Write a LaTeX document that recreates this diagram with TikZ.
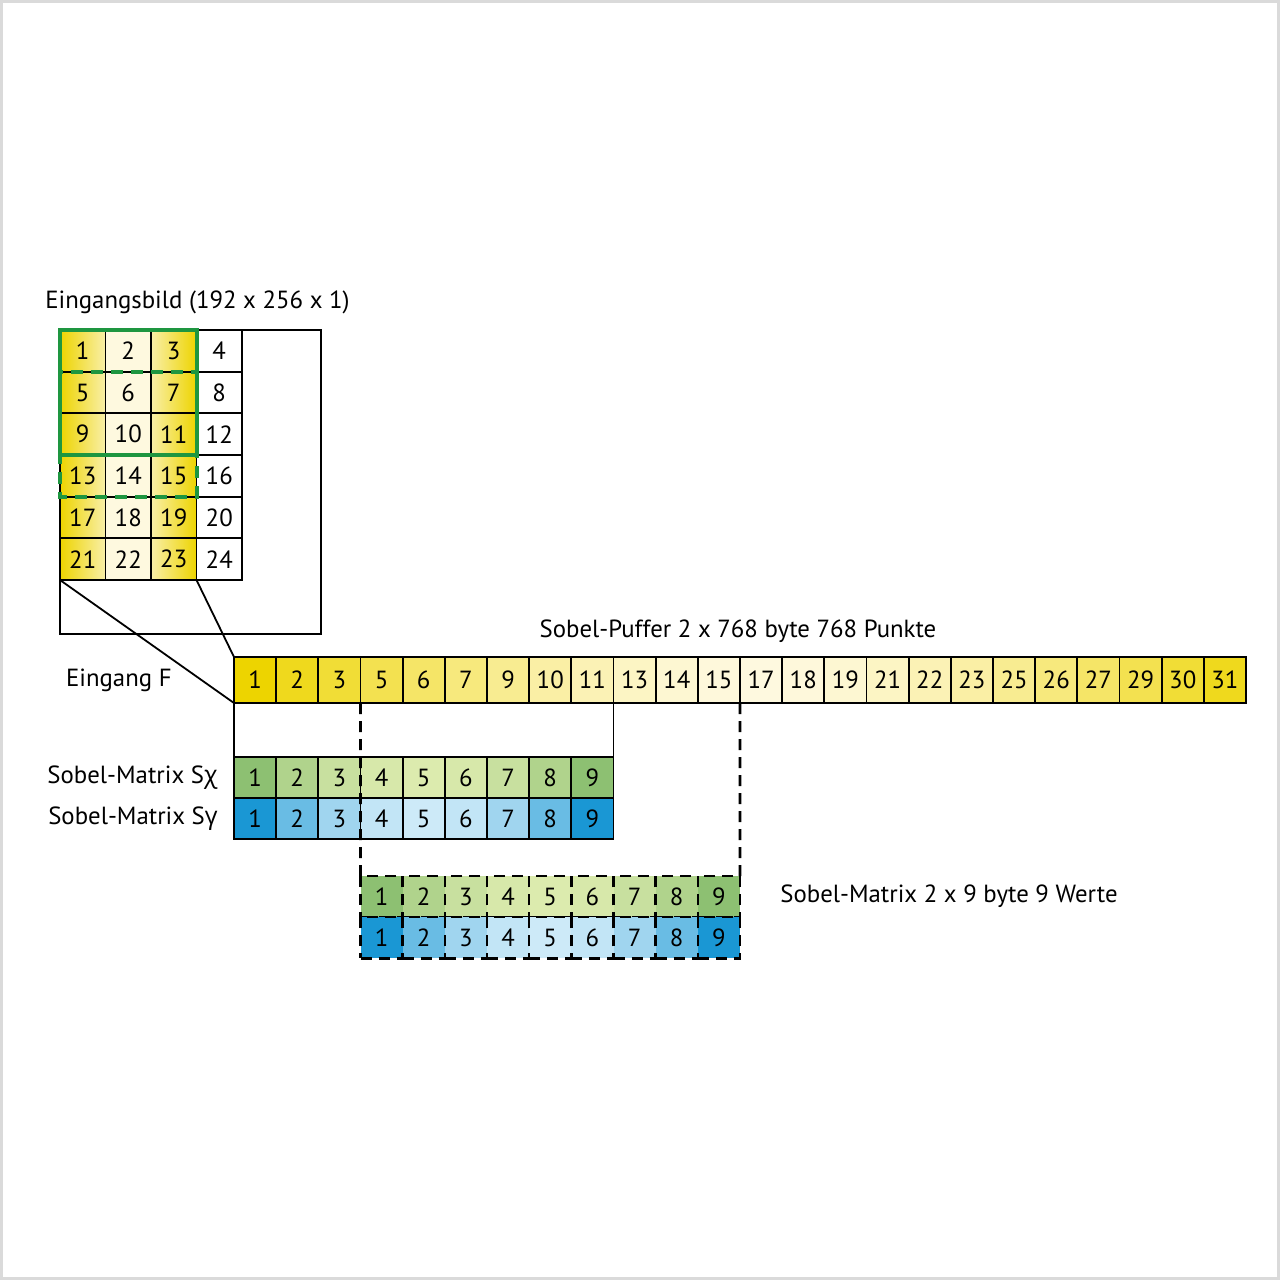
\documentclass[tikz,border=0pt]{standalone}
\usepackage{fontspec}
\setmainfont{PT Sans}
\newfontfamily\greekfont{Open Sans}
\usepackage{tikz}
\usetikzlibrary{positioning}
\definecolor{YelDeep}{HTML}{EDD400}
\definecolor{YelMid}{HTML}{F9EFA8}
\definecolor{YelPale}{HTML}{FEF9DF}
\definecolor{GrnDeep}{HTML}{8DC072}
\definecolor{GrnPale}{HTML}{DCEBAE}
\definecolor{BluDeep}{HTML}{1A97D4}
\definecolor{BluPale}{HTML}{CDEAF8}
\definecolor{WinGreen}{HTML}{1E9640}
\definecolor{FrameGray}{HTML}{DADADA}

\begin{document}
\begin{tikzpicture}[x=0.5pt, y=-0.5pt,
  cell/.style={draw, line width=0.9pt, inner sep=0pt, outer sep=0pt, anchor=north west, font=\fontsize{12.4}{14}\selectfont},
  incell/.style={cell, minimum width=22.75pt, minimum height=20.83pt},
  bufcell/.style={cell, minimum width=21.08pt, minimum height=23pt},
  matcell/.style={cell, minimum width=21.08pt, minimum height=20.6pt},
  dashcell/.style={matcell, line width=1.3pt, dash pattern=on 5.5pt off 3.5pt},
  incol1/.style={left color=YelDeep, right color=YelMid},
  incol2/.style={fill=YelPale},
  incol3/.style={left color=YelMid, right color=YelDeep},
  incol4/.style={fill=white},
  lbl/.style={font=\fontsize{12.4}{14}\selectfont, inner sep=0pt},
  win/.style={draw=WinGreen, line width=2pt},
  conn/.style={line width=0.9pt},
  ]
  \useasboundingbox (0,0) rectangle (1280,1280);
  \draw[FrameGray, line width=1.5pt] (1.5,1.5) rectangle (1278.5,1278.5);

  % Eingangsbild
  \node[lbl, anchor=west] (title) at (45,302) {Eingangsbild (192 x 256 x 1)};
  \node[draw, line width=0.9pt, anchor=north west, inner sep=0pt, outer sep=0pt,
    minimum width=130.5pt, minimum height=152pt] (img) at (60,330) {};
  \foreach \r in {1,...,6}
    \foreach \c in {1,...,4} {
      \pgfmathtruncatemacro\n{(\r-1)*4+\c}
      \node[incell, incol\c] (in-\r-\c) at ({60+(\c-1)*45.5},{330+(\r-1)*41.67}) {\n};
    }
  \draw[win, dash pattern=on 6pt off 4pt] (in-2-1.north west) rectangle (in-4-3.south east);
  \draw[win] (in-1-1.north west) rectangle (in-3-3.south east);

  % Sobel-Puffer
  \foreach \v [count=\i] in {1,2,3,5,6,7,9,10,11,13,14,15,17,18,19,21,22,23,25,26,27,29,30,31} {
    \pgfmathtruncatemacro\p{100*(abs(\i-13)/12)^1.5}
    \node[bufcell, fill=YelDeep!\p!YelPale] (buf-\i) at ({234+(\i-1)*42.1667},657) {\v};
  }
  \node[lbl] (puffer) at (738,631) {Sobel-Puffer 2 x 768 byte 768 Punkte};
  \node[lbl, left=31pt of buf-1] (eingang) {Eingang F};
  \draw[conn] (in-6-1.south west) -- (buf-1.south west);
  \draw[conn] (in-6-3.south east) -- (buf-1.north west);

  % Sobel-Matrizen
  \foreach \i in {1,...,9} {
    \pgfmathtruncatemacro\p{100*(abs(\i-5)/4)^2}
    \node[matcell, fill=GrnDeep!\p!GrnPale] (sx-\i) at ({234+(\i-1)*42.1667},757) {\i};
    \node[matcell, fill=BluDeep!\p!BluPale] (sy-\i) at ({234+(\i-1)*42.1667},798) {\i};
    \node[dashcell, fill=GrnDeep!\p!GrnPale] (dx-\i) at ({360.5+(\i-1)*42.1667},876) {\i};
    \node[dashcell, fill=BluDeep!\p!BluPale] (dy-\i) at ({360.5+(\i-1)*42.1667},917) {\i};
  }
  \node[lbl, left=8pt of sx-1] (sxlabel) {Sobel-Matrix S{\greekfont χ}};
  \node[lbl, left=8pt of sy-1] (sylabel) {Sobel-Matrix S{\greekfont γ}};
  \node[lbl, right=20pt of dx-9] (dlabel) {Sobel-Matrix 2 x 9 byte 9 Werte};

  \draw[conn] (buf-1.south west) -- (sx-1.north west);
  \draw[conn] (buf-9.south east) -- (sx-9.north east);
  \draw[conn, line width=1.3pt, dash pattern=on 5.5pt off 3.5pt] (buf-4.south west) -- (dx-1.north west);
  \draw[conn, line width=1.3pt, dash pattern=on 5.5pt off 3.5pt] (buf-12.south east) -- (dx-9.north east);
\end{tikzpicture}
\end{document}
